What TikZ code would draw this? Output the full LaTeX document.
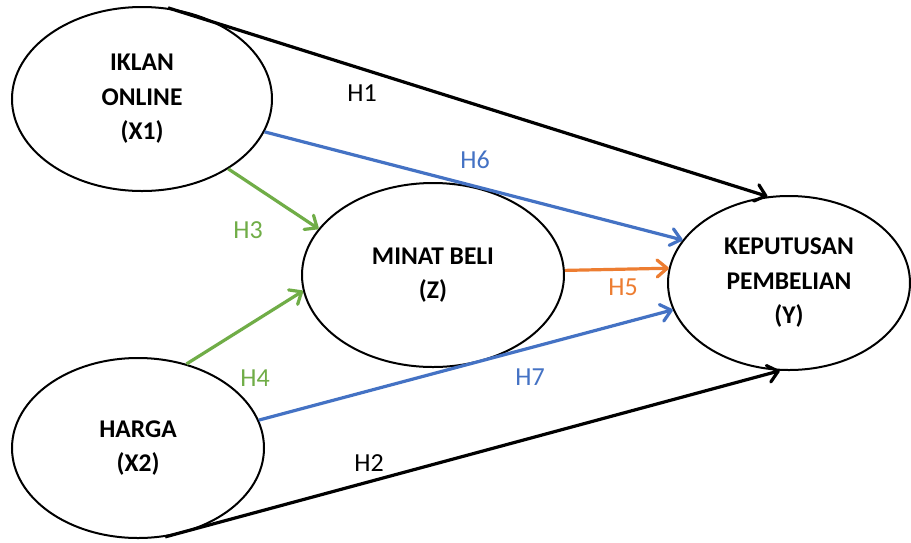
\documentclass[tikz,border=0pt]{standalone}
\usepackage{fontspec}
\setmainfont{Carlito}
\usetikzlibrary{shapes.geometric,arrows.meta}

\definecolor{hblue}{HTML}{4472C4}
\definecolor{hgreen}{HTML}{70AD47}
\definecolor{horange}{HTML}{ED7D31}

\tikzset{
  var/.style={ellipse, draw=black, line width=2pt, inner sep=0pt,
    align=center, font=\fontsize{25.5}{34.5}\selectfont\bfseries},
  link/.style={line width=3.2pt,
    -{Straight Barb[length=10pt,width=17pt,round]}},
  hyp/.style={font=\fontsize{26}{30}\selectfont}
}

\begin{document}
\begin{tikzpicture}[x=1pt,y=-1pt]
  \useasboundingbox[fill=white] (0,0) rectangle (911,542);

  % latent variables
  \node[var, minimum width=260pt, minimum height=184pt] (x1) at (142,99)
    {IKLAN\\ONLINE\\(X1)};
  \node[var, minimum width=252pt, minimum height=180pt] (x2) at (138,448)
    {HARGA\\(X2)};
  \node[var, minimum width=262pt, minimum height=184pt] (z) at (433,275)
    {MINAT BELI\\(Z)};
  \node[var, minimum width=242pt, minimum height=174pt] (y) at (789,283)
    {KEPUTUSAN\\PEMBELIAN\\(Y)};

  % hypothesised paths
  \draw[link, black]   (x1.74.2)  -- (y.104);
  \draw[link, hblue]   (x1.-15.9) -- (y.158.5);
  \draw[link, hgreen]  (x1.-39.9) -- (z.158.5);
  \draw[link, hgreen]  (x2.60.9)  -- (z.187.4);
  \draw[link, horange] (z.2.5)    -- (y.173.3);
  \draw[link, hblue]   (x2.13.1)  -- (y.193);
  \draw[link, black]   (x2.-73.8) -- (y.264.2);

  % path labels
  \node[hyp, text=black]   (h1) at (362,93)  {H1};
  \node[hyp, text=hblue]   (h6) at (475,160) {H6};
  \node[hyp, text=hgreen]  (h3) at (248,230) {H3};
  \node[hyp, text=hgreen]  (h4) at (255,378) {H4};
  \node[hyp, text=horange] (h5) at (623,287) {H5};
  \node[hyp, text=hblue]   (h7) at (530,377) {H7};
  \node[hyp, text=black]   (h2) at (369,463) {H2};
\end{tikzpicture}
\end{document}
